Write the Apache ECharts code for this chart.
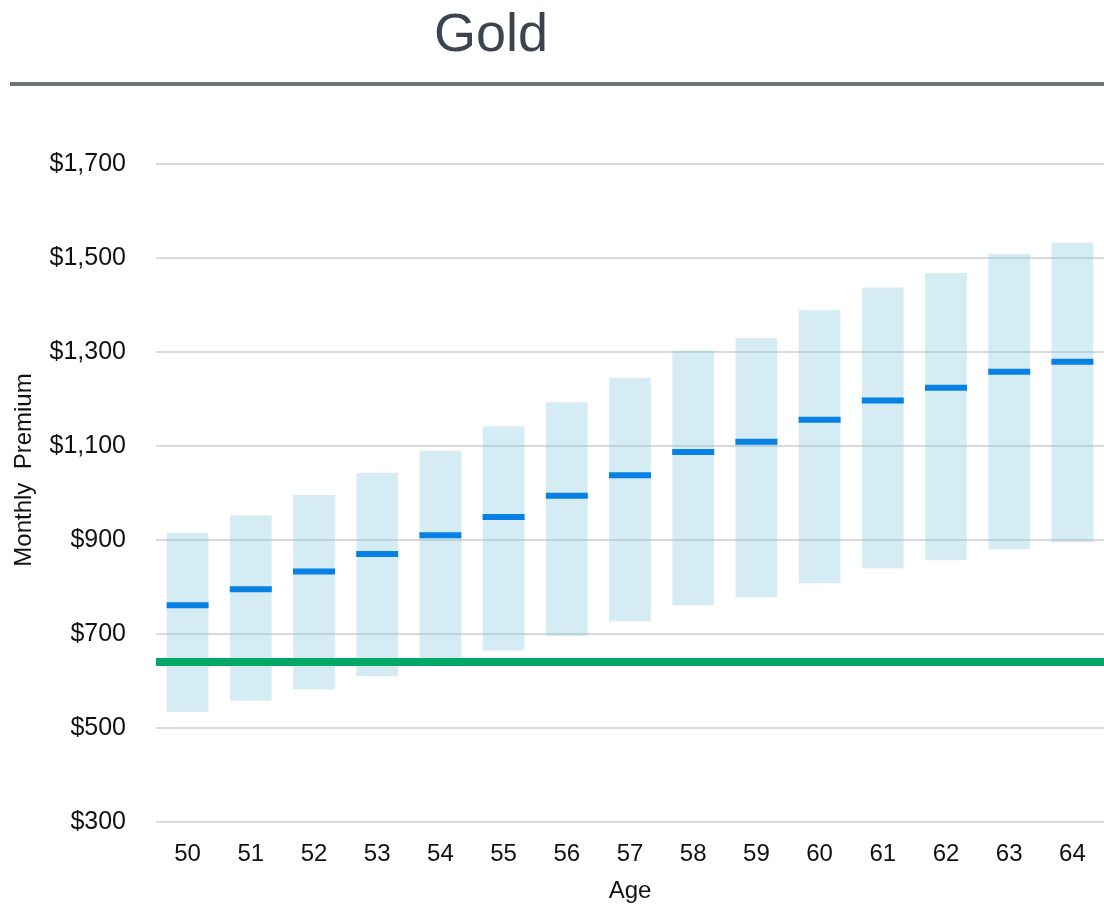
<!DOCTYPE html>
<html>
<head>
<meta charset="utf-8">
<script src="https://cdn.jsdelivr.net/npm/echarts@6/dist/echarts.min.js"></script>
<style>
  html, body { margin: 0; padding: 0; background: #fff; }
  #chart { width: 1104px; height: 908px; }
</style>
</head>
<body>
<div id="chart"></div>
<script>
const ages = ["50", "51", "52", "53", "54", "55", "56", "57", "58", "59", "60", "61", "62", "63", "64"];
const lowPremium = [534, 558, 582, 610, 648, 665, 695, 727, 761, 778, 808, 840, 857, 881, 895];
const highPremium = [915, 952, 996, 1043, 1090, 1142, 1193, 1245, 1303, 1330, 1389, 1437, 1468, 1509, 1533];
const medianPremium = [761, 795, 833, 870, 910, 949, 994, 1038, 1087, 1109, 1156, 1197, 1224, 1258, 1279];
const benchmark = 642;

const chart = echarts.init(document.getElementById("chart"));

function money(v) {
  return "$" + String(v).replace(/\B(?=(\d{3})+(?!\d))/g, ",");
}

chart.setOption({
  animation: false,
  textStyle: { fontFamily: "Liberation Sans, Arial, sans-serif" },
  title: {
    text: "Gold",
    left: 429,
    top: 4,
    textStyle: { fontSize: 54, fontWeight: "normal", color: "#3c4450", fontFamily: "Liberation Sans, Arial, sans-serif" },
  },
  graphic: [
    {
      type: "line",
      shape: { x1: 10, y1: 84, x2: 1104, y2: 84 },
      style: { stroke: "#6e7479", lineWidth: 4 },
    },
    {
      type: "text",
      x: 24,
      y: 470,
      rotation: Math.PI / 2,
      style: {
        text: "Monthly  Premium",
        fontSize: 24,
        fill: "#111",
        align: "center",
        verticalAlign: "middle",
        fontFamily: "Liberation Sans, Arial, sans-serif",
      },
    },
  ],
  grid: { left: 156, top: 164, width: 952, height: 658 },
  xAxis: {
    type: "category",
    data: ages,
    axisLine: { show: false },
    axisTick: { show: false },
    axisLabel: { color: "#111", fontSize: 24, margin: 20 },
    name: "Age",
    nameLocation: "middle",
    nameGap: 57,
    nameTextStyle: { color: "#111", fontSize: 24 },
  },
  yAxis: {
    type: "value",
    min: 300,
    max: 1700,
    interval: 200,
    axisLine: { show: false },
    axisTick: { show: false },
    axisLabel: { color: "#111", fontSize: 25, margin: 30, formatter: money },
    splitLine: { lineStyle: { color: "#d9d9d9", width: 2 } },
  },
  series: [
    {
      type: "bar",
      stack: "range",
      data: lowPremium,
      barWidth: "66%",
      itemStyle: { color: "transparent" },
      silent: true,
    },
    {
      type: "bar",
      stack: "range",
      data: highPremium.map((h, i) => h - lowPremium[i]),
      barWidth: "66%",
      itemStyle: { color: "rgba(135,201,226,0.35)" },
      markLine: {
        silent: true,
        symbol: "none",
        label: { show: false },
        lineStyle: { color: "#03a766", width: 8, type: "solid" },
        data: [{ yAxis: benchmark }],
        z: 5,
      },
    },
    {
      type: "scatter",
      data: medianPremium,
      symbol: "rect",
      symbolSize: [42, 6],
      itemStyle: { color: "#0781e3", opacity: 1 },
      z: 3,
    },
  ],
});
</script>
</body>
</html>
